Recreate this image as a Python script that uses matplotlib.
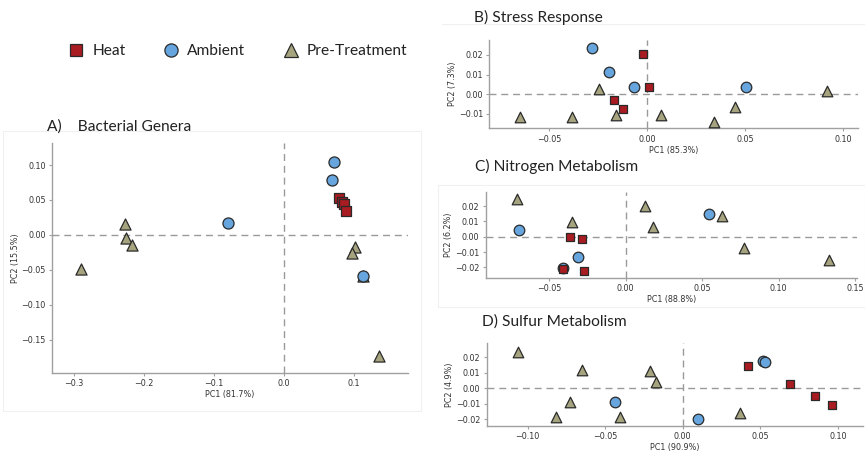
import matplotlib
matplotlib.use("Agg")
import matplotlib.pyplot as plt
from matplotlib.lines import Line2D

# group colours / markers
heat_color = "#a81c22"
amb_color = "#66a5de"
pre_color = "#a6a47f"

# A) Bacterial Genera
a_heat_x = [0.079, 0.083, 0.085, 0.089]
a_heat_y = [0.053, 0.047, 0.044, 0.034]
a_amb_x = [0.071, 0.069, -0.080, 0.113]
a_amb_y = [0.104, 0.078, 0.017, -0.059]
a_pre_x = [-0.227, -0.225, -0.217, -0.289, 0.102, 0.097, 0.113, 0.135]
a_pre_y = [0.015, -0.004, -0.014, -0.049, -0.017, -0.026, -0.059, -0.173]

# B) Stress Response
b_heat_x = [-0.0024, 0.0009, -0.0170, -0.0126]
b_heat_y = [0.0203, 0.0036, -0.0027, -0.0076]
b_amb_x = [-0.0284, -0.0197, -0.0069, 0.0504]
b_amb_y = [0.0237, 0.0113, 0.0036, 0.0036]
b_pre_x = [-0.0650, -0.0383, -0.0248, -0.0160, 0.0070, 0.0342, 0.0446, 0.0918]
b_pre_y = [-0.0117, -0.0114, 0.0025, -0.0105, -0.0105, -0.0142, -0.0063, 0.0018]

# C) Nitrogen Metabolism
c_heat_x = [-0.0364, -0.0286, -0.0412, -0.0273]
c_heat_y = [0.0000, -0.0015, -0.0213, -0.0226]
c_amb_x = [-0.0699, -0.0314, 0.0542, -0.0408]
c_amb_y = [0.0042, -0.0132, 0.0150, -0.0202]
c_pre_x = [-0.0712, -0.0349, 0.0128, 0.0180, 0.0627, 0.0773, 0.1330]
c_pre_y = [0.0244, 0.0098, 0.0198, 0.0061, 0.0133, -0.0074, -0.0150]

# D) Sulfur Metabolism
d_heat_x = [0.0420, 0.0691, 0.0855, 0.0962]
d_heat_y = [0.0147, 0.0030, -0.0050, -0.0108]
d_amb_x = [-0.0436, 0.0100, 0.0520, 0.0533]
d_amb_y = [-0.0089, -0.0200, 0.0175, 0.0172]
d_pre_x = [-0.1063, -0.0651, -0.0211, -0.0172, -0.0724, -0.0816, -0.0404, 0.0367]
d_pre_y = [0.0238, 0.0119, 0.0112, 0.0041, -0.0087, -0.0184, -0.0188, -0.0160]

W, H = 865, 453
fig = plt.figure(figsize=(W / 100, H / 100), dpi=100)
title_font = ["Lato", "DejaVu Sans"]


def px_axes(x0, y0, x1, y1):
    return fig.add_axes([x0 / W, 1 - y1 / H, (x1 - x0) / W, (y1 - y0) / H])


def style(ax, xlim, ylim, xticks, yticks, xfmt, yfmt, xlabel, ylabel, xlp, ylp):
    ax.set_xlim(*xlim)
    ax.set_ylim(*ylim)
    for s in ["top", "right"]:
        ax.spines[s].set_visible(False)
    for s in ["left", "bottom"]:
        ax.spines[s].set_color("#a0a0a0")
        ax.spines[s].set_linewidth(1.0)
    ax.set_xticks(xticks)
    ax.set_yticks(yticks)
    ax.set_xticklabels([xfmt.format(v).replace("-", "\u2212") for v in xticks])
    ax.set_yticklabels([yfmt.format(v).replace("-", "\u2212") for v in yticks])
    ax.tick_params(length=2.5, width=0.8, color="#a0a0a0", labelsize=5.8,
                   labelcolor="#333333", pad=2)
    ax.set_xlabel(xlabel, fontsize=5.8, color="#333333", labelpad=xlp)
    ax.set_ylabel(ylabel, fontsize=5.8, color="#333333", labelpad=ylp)
    ax.axhline(0, color="#9a9a9a", lw=1.0, dashes=(5, 3.5), zorder=1)
    ax.axvline(0, color="#9a9a9a", lw=1.0, dashes=(5, 3.5), zorder=1)
    ax.patch.set_alpha(0)


def points(ax, hx, hy, ax_, ay, px, py, sc=1.0):
    kw = dict(edgecolors="#2a2a2a", linewidths=0.9, zorder=3)
    ax.scatter(px, py, marker="^", s=58 * sc, color=pre_color, **kw)
    ax.scatter(ax_, ay, marker="o", s=58 * sc, color=amb_color, **kw)
    ax.scatter(hx, hy, marker="s", s=40 * sc, color=heat_color, **kw)


# faint panel frames
for (x0, y0, x1, y1) in [(3, 131, 421, 411), (438, 185, 865, 307)]:
    fig.add_artist(plt.Rectangle((x0 / W, 1 - y1 / H), (x1 - x0) / W, (y1 - y0) / H,
                                 transform=fig.transFigure, fill=False,
                                 ec="#f0f0f0", lw=0.8))
fig.add_artist(Line2D([442 / W, 1], [1 - 24 / H, 1 - 24 / H],
                      transform=fig.transFigure, color="#f0f0f0", lw=0.8))

# panel A
axA = px_axes(52, 143, 408, 373)
points(axA, a_heat_x, a_heat_y, a_amb_x, a_amb_y, a_pre_x, a_pre_y, sc=1.1)
style(axA, (-0.331, 0.177), (-0.198, 0.1316),
      [-0.3, -0.2, -0.1, 0.0, 0.1], [-0.15, -0.10, -0.05, 0.0, 0.05, 0.10],
      "{:.1f}", "{:.2f}", "PC1 (81.7%)", "PC2 (15.5%)", 1.5, 1.0)

# panel B
axB = px_axes(489.3, 40, 858, 128.3)
points(axB, b_heat_x, b_heat_y, b_amb_x, b_amb_y, b_pre_x, b_pre_y)
style(axB, (-0.0806, 0.1075), (-0.0173, 0.0276),
      [-0.05, 0.0, 0.05, 0.10], [-0.01, 0.0, 0.01, 0.02],
      "{:.2f}", "{:.2f}", "PC1 (85.3%)", "PC2 (7.3%)", 1.5, 1.5)

# panel C
axC = px_axes(485.7, 191.7, 856.7, 277.7)
points(axC, c_heat_x, c_heat_y, c_amb_x, c_amb_y, c_pre_x, c_pre_y)
style(axC, (-0.0915, 0.151), (-0.0267, 0.0294),
      [-0.05, 0.0, 0.05, 0.10, 0.15], [-0.02, -0.01, 0.0, 0.01, 0.02],
      "{:.2f}", "{:.2f}", "PC1 (88.8%)", "PC2 (6.2%)", 1.5, 1.5)

# panel D
axD = px_axes(486.7, 343.3, 863.3, 426)
points(axD, d_heat_x, d_heat_y, d_amb_x, d_amb_y, d_pre_x, d_pre_y)
style(axD, (-0.1263, 0.1164), (-0.0245, 0.0292),
      [-0.10, -0.05, 0.0, 0.05, 0.10], [-0.02, -0.01, 0.0, 0.01, 0.02],
      "{:.2f}", "{:.2f}", "PC1 (90.9%)", "PC2 (4.9%)", 1.0, 1.5)

# titles
fig.text(47 / W, 1 - 127 / H, "A)    Bacterial Genera", fontsize=11.2, family=title_font,
         va="center", color="#222222")
fig.text(474 / W, 1 - 17 / H, "B) Stress Response", fontsize=11.2, family=title_font,
         va="center", color="#222222")
fig.text(475 / W, 1 - 166 / H, "C) Nitrogen Metabolism", fontsize=11.2, family=title_font,
         va="center", color="#222222")
fig.text(482 / W, 1 - 322 / H, "D) Sulfur Metabolism", fontsize=11.2, family=title_font,
         va="center", color="#222222")

# legend
handles = [
    Line2D([], [], ls="none", marker="s", ms=8.5, mfc=heat_color, mec="#2a2a2a", mew=0.9),
    Line2D([], [], ls="none", marker="o", ms=9.5, mfc=amb_color, mec="#2a2a2a", mew=0.9),
    Line2D([], [], ls="none", marker="^", ms=9.5, mfc=pre_color, mec="#2a2a2a", mew=0.9),
]
fig.legend(handles, ["Heat", "Ambient", "Pre-Treatment"], loc="center",
           bbox_to_anchor=(238 / W, 1 - 51 / H), ncol=3, frameon=False,
           prop={"family": title_font, "size": 11.2}, handlelength=1.0,
           handletextpad=0.55, columnspacing=2.4, labelcolor="#222222")

fig.savefig("out.png", dpi=100)
